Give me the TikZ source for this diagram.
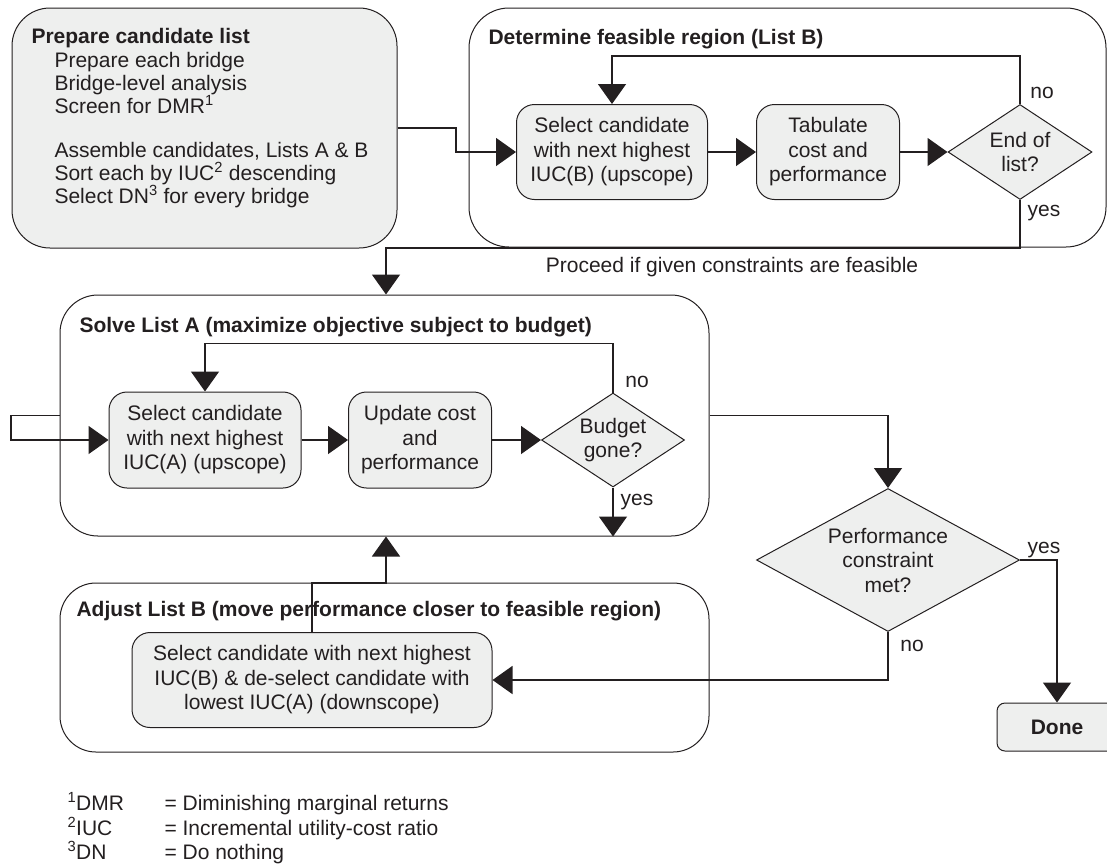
\documentclass[tikz,border=0pt]{standalone}
\usepackage{fontspec}
\setmainfont{Liberation Sans}
\usetikzlibrary{arrows.meta,shapes.geometric}
\definecolor{boxfill}{RGB}{238,239,238}
\definecolor{ink}{RGB}{35,31,32}
\begin{document}
\begin{tikzpicture}[x=1pt,y=-1pt,
  every node/.style={font=\fontsize{21}{24.5}\selectfont, text=ink},
  group/.style={draw=ink, line width=1pt, rounded corners=#1, inner sep=0pt},
  procbox/.style={draw=ink, fill=boxfill, line width=1pt, rounded corners=18pt,
    align=center, inner sep=0pt},
  decision/.style={diamond, draw=ink, fill=boxfill, line width=1pt, align=center,
    inner sep=0pt, aspect=#1},
  title/.style={anchor=base west, font=\bfseries\fontsize{21}{24.5}\selectfont},
  item/.style={anchor=base west},
  flow/.style={draw=ink, line width=1.5pt, -{Triangle[length=20pt,width=28pt]}},
  plain/.style={draw=ink, line width=1.5pt}
]
\useasboundingbox (0,0) rectangle (1107,863);

% ---- containers
\node[group=38pt, fill=boxfill, minimum width=385pt, minimum height=240pt] (prep) at (204.5,128) {};
\node[group=40pt, minimum width=637pt, minimum height=239pt] (feas) at (787.5,127.5) {};
\node[group=38pt, minimum width=649pt, minimum height=241pt] (solve) at (384.5,415.5) {};
\node[group=36pt, minimum width=649pt, minimum height=169pt] (adjust) at (384.5,667.5) {};

% ---- candidate list panel
\node[title] (prepT) at (28,43) {Prepare candidate list};
\node[item] (p1) at (51,67) {Prepare each bridge};
\node[item] (p2) at (51,90) {Bridge-level analysis};
\node[item] (p3) at (51,113) {Screen for DMR\textsuperscript{1}};
\node[item] (p4) at (51,157) {Assemble candidates, Lists A \& B};
\node[item] (p5) at (51,180) {Sort each by IUC\textsuperscript{2} descending};
\node[item] (p6) at (51,203) {Select DN\textsuperscript{3} for every bridge};

% ---- feasible region panel
\node[title] (feasT) at (485,44) {Determine feasible region (List B)};
\node[procbox, minimum width=191pt, minimum height=95pt] (selB) at (612,152)
  {Select candidate\\with next highest\\IUC(B) (upscope)};
\node[procbox, minimum width=143pt, minimum height=95pt] (tab) at (828,152)
  {Tabulate\\cost and\\performance};
\node[decision=1.5, minimum width=144pt, minimum height=95pt] (endlist) at (1020,152)
  {End of\\list?};

% ---- solve panel
\node[title] (solveT) at (76,332) {Solve List A (maximize objective subject to budget)};
\node[procbox, minimum width=192pt, minimum height=96pt] (selA) at (205,440)
  {Select candidate\\with next highest\\IUC(A) (upscope)};
\node[procbox, minimum width=143pt, minimum height=96pt] (upd) at (420,440)
  {Update cost\\and\\performance};
\node[decision=1.5, minimum width=143pt, minimum height=94pt] (budget) at (613,440)
  {Budget\\gone?};

% ---- adjust panel
\node[title] (adjT) at (73,616) {Adjust List B (move performance closer to feasible region)};
\node[procbox, minimum width=360pt, minimum height=95pt] (adj) at (312,680)
  {Select candidate with next highest\\IUC(B) \& de-select candidate with\\lowest IUC(A) (downscope)};

% ---- performance check and end
\node[decision=1.84, minimum width=263pt, minimum height=143pt] (perf) at (888,560)
  {Performance\\constraint\\met?};
\node[draw=ink, fill=boxfill, line width=1pt, rounded corners=8pt, inner sep=0pt,
  minimum width=120pt, minimum height=48pt, font=\bfseries\fontsize{21}{24.5}\selectfont]
  (done) at (1057,727) {Done};

% ---- connectors
\coordinate (j1) at (456,128);
\draw[flow] (prep.east) -- (j1) |- (selB.west);
\draw[flow] (selB) -- (tab);
\draw[flow] (tab) -- (endlist);
\draw[flow] (endlist.north) -- ++(0,-48) -| (selB.north);
\coordinate (yesB) at (386,248);
\draw[flow] (endlist.south) |- (yesB) -- (yesB |- solve.north);

\coordinate (stubT) at (11,415.5);
\draw[flow] (solve.west) -- (stubT) |- (selA.west);
\draw[flow] (selA) -- (upd);
\draw[flow] (upd) -- (budget);
\draw[flow] (budget.north) -- ++(0,-49) -| (selA.north);
\draw[flow] (budget.south) -- (budget.south |- solve.south);

\draw[flow] (solve.east) -| (perf.north);
\draw[flow] (perf.east) -| (done.north);
\draw[flow] (perf.south) |- (adj.east);
\coordinate (upA) at (386,583);
\draw[flow] (adj.north) |- (upA) -- (upA |- solve.south);

% ---- branch labels
\node (noB) at (1042,93) {no};
\node (yesBl) at (1044,213) {yes};
\node (proceed) at (732,267) {Proceed if given constraints are feasible};
\node (noA) at (637,382) {no};
\node (yesAl) at (637,502) {yes};
\node (yesP) at (1044,550) {yes};
\node (noP) at (912,646) {no};

% ---- abbreviations
\node[item] (f1a) at (64,810) {\textsuperscript{1}DMR};
\node[item] (f1b) at (161,810) {= Diminishing marginal returns};
\node[item] (f2a) at (64,835) {\textsuperscript{2}IUC};
\node[item] (f2b) at (161,835) {= Incremental utility-cost ratio};
\node[item] (f3a) at (64,859) {\textsuperscript{3}DN};
\node[item] (f3b) at (161,859) {= Do nothing};
\end{tikzpicture}
\end{document}
